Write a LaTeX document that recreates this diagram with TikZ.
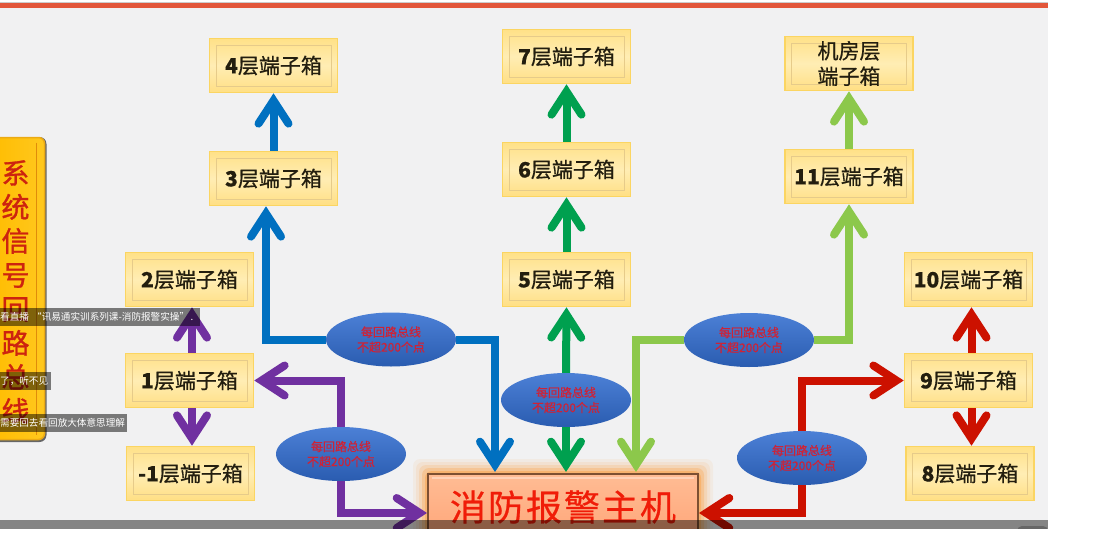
\documentclass[tikz,border=0pt]{standalone}
\usepackage{fontspec}
\setmainfont{Noto Sans CJK SC}
\newfontfamily\heavier[FakeBold=0.6]{Noto Sans CJK SC}
\newfontfamily\heavy[FakeBold=1.2]{Noto Sans CJK SC}
\usetikzlibrary{arrows.meta,shapes.geometric,calc}
\definecolor{bgc}{HTML}{F1F1F2}
\definecolor{cpurple}{HTML}{7030A0}
\definecolor{cblue}{HTML}{0070C0}
\definecolor{cgreen}{HTML}{00A04F}
\definecolor{clime}{HTML}{8CC84B}
\definecolor{cred}{HTML}{CC1100}
\definecolor{boxedge}{HTML}{FBD562}
\definecolor{boxtop}{HTML}{FFE188}
\definecolor{boxmid}{HTML}{FFEDB4}
\definecolor{boxbot}{HTML}{FFDF84}
\definecolor{boxline}{HTML}{E6CB8A}
\tikzset{
 x=1pt,y=-1pt,
 flow/.style={line width=8pt,draw=#1,line cap=butt,line join=miter,
   -{Straight Barb[line cap=round,line join=miter,length=23pt,width=30pt,line width=8pt]}},
 termbox/.style={rectangle,draw=boxedge,line width=1.6pt,
   minimum width=128pt,minimum height=54pt,inner sep=0pt,
   top color=boxtop,bottom color=boxbot,middle color=boxmid,
   font=\fontsize{21}{25.5}\selectfont\heavier,text={rgb,255:red,35;green,30;blue,15},align=center,
   path picture={\draw[line width=.6pt,draw=boxline]
     ([shift={(6.5pt,-6.5pt)}]path picture bounding box.north west) rectangle
     ([shift={(-6.5pt,6.5pt)}]path picture bounding box.south east);}},
 loopnote/.style={ellipse,draw=none,minimum width=130pt,minimum height=54pt,inner sep=0pt,
   top color={rgb,255:red,76;green,128;blue,214},bottom color={rgb,255:red,42;green,92;blue,176},
   font=\fontsize{12}{15}\selectfont\heavier,text={rgb,255:red,205;green,35;blue,55},align=center},
 caption/.style={rectangle,fill=black,fill opacity=.5,text opacity=1,text=white,anchor=west,
   inner sep=0pt,minimum height=18pt,font=\fontsize{9.6}{11}\selectfont,align=left}
}
\begin{document}
\begin{tikzpicture}
\useasboundingbox (0,0) rectangle (1093,541);
% page
\fill[white] (0,0) rectangle (1093,541);
\fill[bgc] (0,8) rectangle (1048,529);
\fill[gray!40] (0,2) rectangle (1048,3);
\fill[fill={rgb,255:red,226;green,86;blue,58}] (0,3) rectangle (1048,8);
% glow of the host box
\foreach \g/\o in {15/.06,12/.08,9/.12,6/.18,3/.25}{
  \fill[orange,opacity=\o,rounded corners=7pt] (428-\g,474-\g) rectangle (698+\g,541);}
% terminal boxes
\node[termbox] (b4) at (273.5,65.5) {\textbf{4}层端子箱};
\node[termbox] (b3) at (273.5,178.5) {\textbf{3}层端子箱};
\node[termbox] (b2) at (189.5,279.5) {\textbf{2}层端子箱};
\node[termbox] (b1) at (189.5,380.5) {\textbf{1}层端子箱};
\node[termbox] (bm1) at (190.5,473.5) {\textbf{-1}层端子箱};
\node[termbox] (b7) at (566.5,56.5) {\textbf{7}层端子箱};
\node[termbox] (b6) at (566.5,169.5) {\textbf{6}层端子箱};
\node[termbox] (b5) at (566.5,279.5) {\textbf{5}层端子箱};
\node[termbox] (br) at (849,63.5) {机房层\\端子箱};
\node[termbox] (b11) at (849,176.5) {\textbf{11}层端子箱};
\node[termbox] (b10) at (968.5,279.5) {\textbf{10}层端子箱};
\node[termbox] (b9) at (968.5,380.5) {\textbf{9}层端子箱};
\node[termbox] (b8) at (970,473.5) {\textbf{8}层端子箱};
% host
\node[rectangle,draw={rgb,255:red,125;green,80;blue,50},line width=1.3pt,minimum width=270pt,minimum height=66pt,
  inner sep=0pt,top color={rgb,255:red,255;green,188;blue,148},bottom color={rgb,255:red,255;green,165;blue,120},
  text={rgb,255:red,240;green,28;blue,8},font=\fontsize{36}{42}\selectfont\heavier,
  path picture={\draw[line width=1.5pt,draw=white,opacity=.35]
     ([shift={(4pt,-4pt)}]path picture bounding box.north west) -- ([shift={(-4pt,-4pt)}]path picture bounding box.north east);}] (host) at (563,507)
  {消\hspace{2pt}防\hspace{2pt}报\hspace{2pt}警\hspace{2pt}主\hspace{2pt}机};
% notes
\node[loopnote] (npurple) at (341,454) {每回路总线\\不超200个点};
\node[loopnote] (nblue) at (391,339.5) {每回路总线\\不超200个点};
\node[loopnote] (ngreen) at (566,400) {每回路总线\\不超200个点};
\node[loopnote] (nlime) at (749,340) {每回路总线\\不超200个点};
\node[loopnote] (nred) at (802,458) {每回路总线\\不超200个点};
% entry points on the host and off-centre entry points on the boxes
\coordinate (hblue) at (495,472);
\coordinate (hgreen) at (566,472);
\coordinate (hlime) at (636,472);
\coordinate (hpurple) at (427,513);
\coordinate (hred) at (699,513);
\coordinate (b3in) at ($(b3.south)+(-7.5,0)$);
\coordinate (b1up) at ($(b1.north)+(2.5,0)$);
\coordinate (b2in) at ($(b2.south)+(2.5,0)$);
\coordinate (b1dn) at ($(b1.south)+(2.5,0)$);
\coordinate (bm1in) at ($(bm1.north)+(1.5,0)$);
\coordinate (b9up) at ($(b9.north)+(3,0)$);
\coordinate (b10in) at ($(b10.south)+(3,0)$);
\coordinate (b9dn) at ($(b9.south)+(3,0)$);
\coordinate (b8in) at ($(b8.north)+(1.5,0)$);
% connectors
\draw[flow=cpurple] (b1up) -- (b2in);
\draw[flow=cpurple] (b1dn) -- (bm1in);
\draw[flow=cpurple] (npurple.north) |- (b1.east);
\draw[flow=cpurple] (npurple.south) |- (hpurple);
\draw[flow=cblue] (nblue.west) -| (b3in);
\draw[flow=cblue] (nblue.east) -| (hblue);
\draw[flow=cblue] (b3) -- (b4);
\draw[flow=cgreen] (ngreen.north) -- (b5.south);
\draw[flow=cgreen] (ngreen.south) -- (hgreen);
\draw[flow=cgreen] (b5) -- (b6);
\draw[flow=cgreen] (b6) -- (b7);
\draw[flow=clime] (nlime.east) -| (b11.south);
\draw[flow=clime] (nlime.west) -| (hlime);
\draw[flow=clime] (b11) -- (br);
\draw[flow=cred] (nred.north) |- (b9.west);
\draw[flow=cred] (nred.south) |- (hred);
\draw[flow=cred] (b9up) -- (b10in);
\draw[flow=cred] (b9dn) -- (b8in);
% side panel
\fill[black!60,rounded corners=7pt] (-12,137) rectangle (46.5,442);
\node[rectangle,rounded corners=6pt,draw={rgb,255:red,235;green,170;blue,20},line width=1.5pt,
  left color={rgb,255:red,255;green,188;blue,0},right color={rgb,255:red,255;green,200;blue,30},
  minimum width=55pt,minimum height=302pt,inner sep=0pt,
  path picture={\draw[line width=.7pt,draw=orange!80!black,opacity=.6]
    ([shift={(-8pt,-5pt)}]path picture bounding box.north east) --
    ([shift={(-8pt,5pt)}]path picture bounding box.south east);}] (side) at (17,288.5) {};
\node[text={rgb,255:red,205;green,35;blue,15},font=\fontsize{28}{34}\selectfont\heavy,align=center,inner sep=0pt] (sidetext) at (15.5,292)
 {系\\统\\信\\号\\回\\路\\总\\线};
% video captions
\node[caption,minimum width=200pt,text width=200pt] (c1) at (0,317) {看直播 “讯易通实训系列课-消防报警实操”\,.};
\node[caption,minimum width=51pt,text width=51pt] (c2) at (0,381) {了，听不见};
\node[caption,minimum width=127pt,text width=127pt] (c3) at (0,423) {需要回去看回放大体意思理解};
% video control bar
\fill[black,opacity=.45] (0,520) rectangle (1048,529);
\fill[black!60,rounded corners=5pt] (1017,526) rectangle (1048,535);
\fill[white] (0,529) rectangle (1093,541);
\end{tikzpicture}
\end{document}
